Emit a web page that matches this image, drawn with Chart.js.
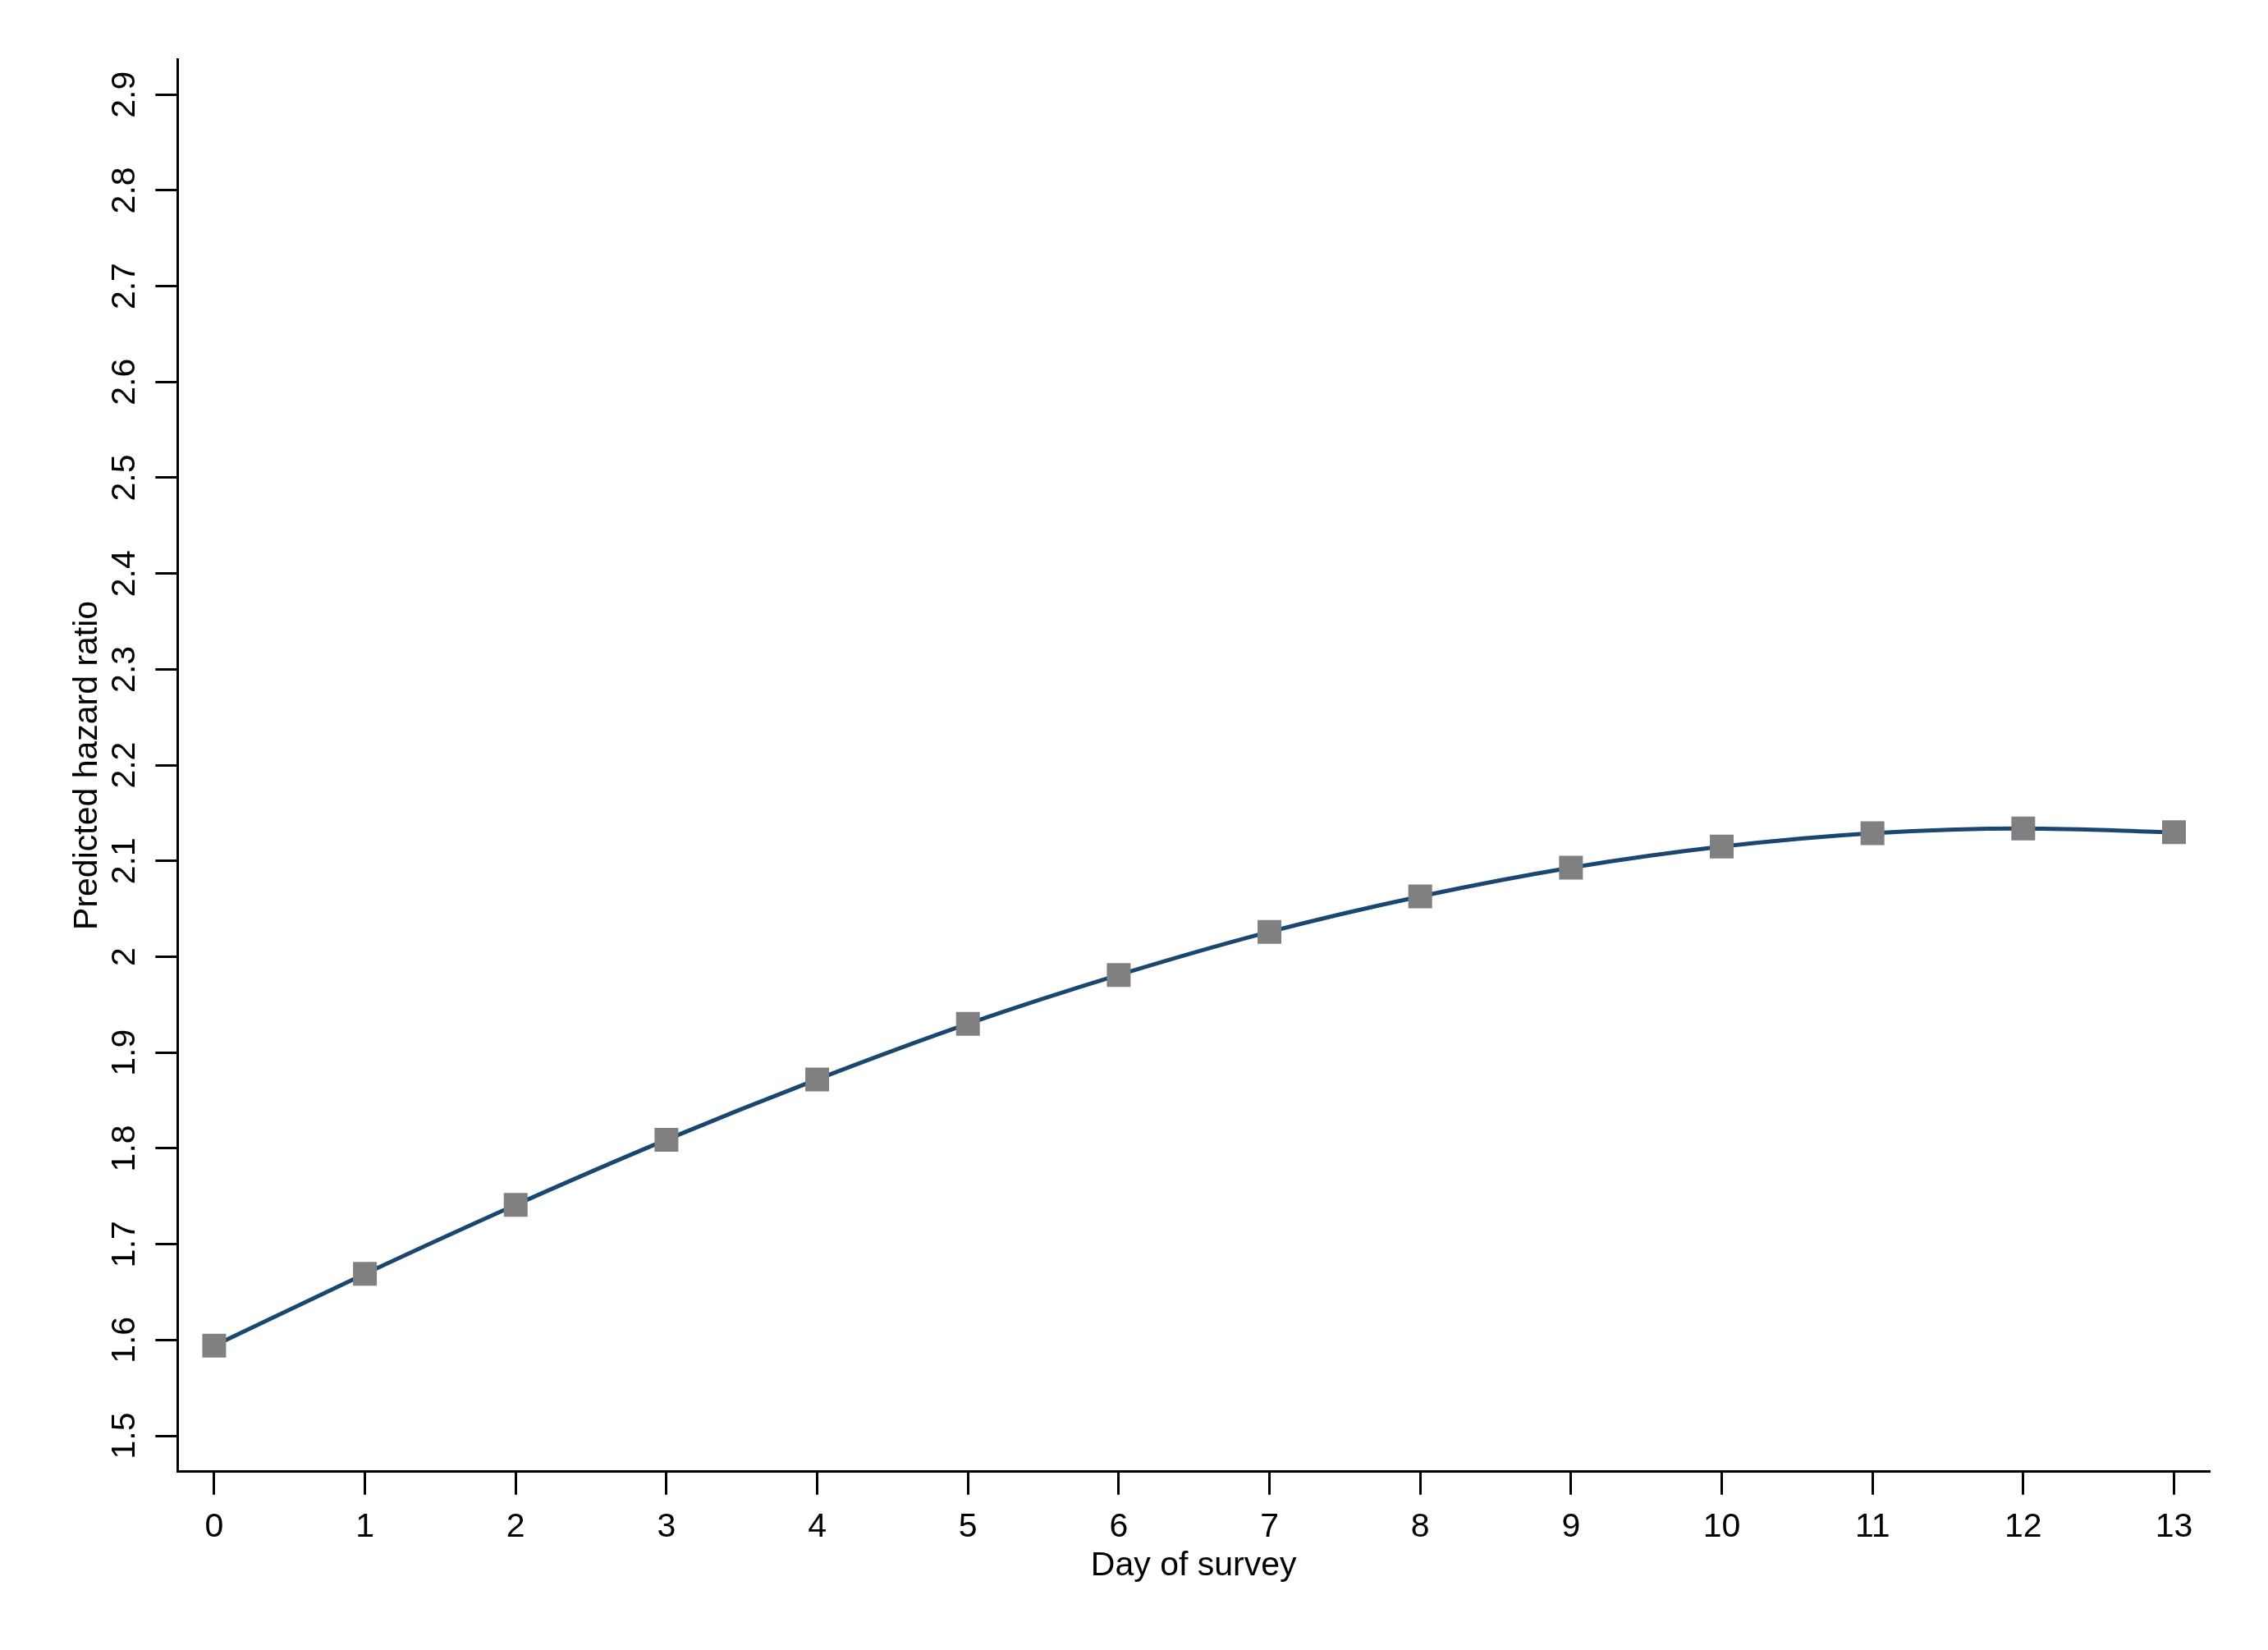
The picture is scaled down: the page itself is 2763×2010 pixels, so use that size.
<!DOCTYPE html>
<html>
<head>
<meta charset="utf-8">
<script src="https://cdn.jsdelivr.net/npm/chart.js@4/dist/chart.umd.min.js"></script>
<style>
  html, body { margin: 0; padding: 0; background: #ffffff; }
  #wrap { width: 2763px; height: 2010px; }
</style>
</head>
<body>
<div id="wrap"><canvas id="c" width="2763" height="2010"></canvas></div>
<script>
// ---- data ----
const days = [0, 1, 2, 3, 4, 5, 6, 7, 8, 9, 10, 11, 12, 13];
const hazardRatio = [1.594, 1.669, 1.741, 1.809, 1.872, 1.930, 1.981, 2.026, 2.063, 2.093, 2.115, 2.129, 2.134, 2.130];
const xTicks = [0, 1, 2, 3, 4, 5, 6, 7, 8, 9, 10, 11, 12, 13];
const yTicks = [1.5, 1.6, 1.7, 1.8, 1.9, 2.0, 2.1, 2.2, 2.3, 2.4, 2.5, 2.6, 2.7, 2.8, 2.9];
const yTickLabels = ["1.5", "1.6", "1.7", "1.8", "1.9", "2", "2.1", "2.2", "2.3", "2.4", "2.5", "2.6", "2.7", "2.8", "2.9"];
const xTitle = "Day of survey";
const yTitle = "Predicted hazard ratio";

const FONT = "'Liberation Sans', Arial, Helvetica, sans-serif";

const points = days.map((d, i) => ({ x: d, y: hazardRatio[i] }));

new Chart(document.getElementById('c'), {
  type: 'line',
  data: {
    datasets: [{
      data: points,
      borderColor: '#1a476f',
      borderWidth: 5,
      cubicInterpolationMode: 'monotone',
      pointStyle: 'rect',
      pointRadius: 20.5,
      pointBackgroundColor: '#808080',
      pointBorderWidth: 0,
      pointHoverRadius: 20.5,
      fill: false
    }]
  },
  options: {
    responsive: false,
    devicePixelRatio: 1,
    animation: false,
    layout: { padding: { left: 85, right: 71, top: 72, bottom: 81.5 } },
    plugins: { legend: { display: false }, tooltip: { enabled: false } },
    scales: {
      x: {
        type: 'linear',
        min: -0.243,
        max: 13.237,
        afterBuildTicks: (s) => { s.ticks = xTicks.map(v => ({ value: v })); },
        ticks: {
          color: '#000000',
          font: { family: FONT, size: 41 },
          padding: 15,
          maxRotation: 0,
          minRotation: 0,
          callback: (v) => String(v)
        },
        grid: { drawOnChartArea: false, drawTicks: true, tickLength: 28, tickWidth: 3, tickColor: '#000000' },
        border: { display: true, color: '#000000', width: 3 },
        title: {
          display: true,
          text: xTitle,
          color: '#000000',
          font: { family: FONT, size: 41, lineHeight: 1.0 },
          padding: { top: -12.5, bottom: 0 }
        }
      },
      y: {
        type: 'linear',
        min: 1.4625,
        max: 2.937,
        afterBuildTicks: (s) => { s.ticks = yTicks.map(v => ({ value: v })); },
        ticks: {
          color: '#000000',
          font: { family: FONT, size: 41 },
          padding: 8,
          minRotation: 90,
          maxRotation: 90,
          crossAlign: 'center',
          callback: (v) => {
            const i = yTicks.findIndex(t => Math.abs(t - v) < 1e-9);
            return i >= 0 ? yTickLabels[i] : '';
          }
        },
        grid: { drawOnChartArea: false, drawTicks: true, tickLength: 27, tickWidth: 3, tickColor: '#000000' },
        border: { display: true, color: '#000000', width: 3 },
        title: {
          display: true,
          text: yTitle,
          color: '#000000',
          font: { family: FONT, size: 41, lineHeight: 1.0 },
          padding: { top: 1.5, bottom: -3.4 }
        }
      }
    }
  }
});
</script>
</body>
</html>
